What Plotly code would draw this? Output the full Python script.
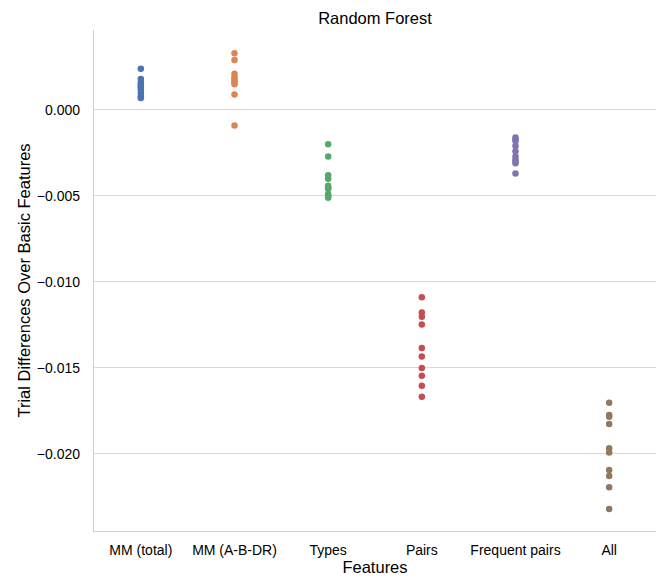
import plotly.graph_objects as go

categories = ["MM (total)", "MM (A-B-DR)", "Types", "Pairs", "Frequent pairs", "All"]
mm_total = [0.0024, 0.0018, 0.0016, 0.0015, 0.0014, 0.0013, 0.0012, 0.0010, 0.0008, 0.0007]
mm_abdr = [0.0033, 0.0029, 0.0021, 0.0019, 0.0018, 0.0017, 0.0016, 0.0015, 0.0009, -0.0009]
types = [-0.0020, -0.0027, -0.0038, -0.0040, -0.0044, -0.0045, -0.0046, -0.0049, -0.0050, -0.0051]
pairs = [-0.01089, -0.01178, -0.01202, -0.01248, -0.01384, -0.01434, -0.0150, -0.01545, -0.01603, -0.01667]
freq_pairs = [-0.0016, -0.0017, -0.0018, -0.0021, -0.0024, -0.0027, -0.0029, -0.0030, -0.0031, -0.0037]
all_feats = [-0.01702, -0.01773, -0.01783, -0.01826, -0.01967, -0.01992, -0.02093, -0.02128, -0.02194, -0.0232]
series = [mm_total, mm_abdr, types, pairs, freq_pairs, all_feats]
colors = ["#4C72B0", "#DD8452", "#55A868", "#C44E52", "#8172B3", "#937860"]
y_ticks = [0.0, -0.005, -0.010, -0.015, -0.020]
y_tick_labels = ["0.000", "\u22120.005", "\u22120.010", "\u22120.015", "\u22120.020"]

fig = go.Figure()
for cat, vals, col in zip(categories, series, colors):
    fig.add_trace(go.Scatter(
        x=[cat] * len(vals), y=vals, mode="markers",
        marker=dict(color=col, size=6.5, line=dict(width=0)),
        showlegend=False, name=cat,
    ))

font_family = "Liberation Sans, Arial, sans-serif"
fig.update_layout(
    width=662, height=579,
    margin=dict(l=94, r=6, t=30, b=48),
    plot_bgcolor="white", paper_bgcolor="white",
    font=dict(family=font_family, color="black", size=14),
    title=dict(text="Random Forest", x=0.5, xref="paper", xanchor="center",
               y=1 - 18 / 579, yanchor="middle", font=dict(size=16.5, color="black")),
    xaxis=dict(
        categoryorder="array", categoryarray=categories,
        range=[-0.5, 5.5], showgrid=False, zeroline=False,
        showline=True, linecolor="#cccccc", linewidth=1.25,
        ticks="", tickfont=dict(size=14), ticklabelstandoff=6,
        automargin=False,
        title=dict(text="Features", font=dict(size=16.5), standoff=3),
    ),
    yaxis=dict(
        range=[-0.02448, 0.00465], tickvals=y_ticks, ticktext=y_tick_labels,
        showgrid=True, gridcolor="#d9d9d9", gridwidth=1, zeroline=False,
        showline=True, linecolor="#cccccc", linewidth=1.25,
        ticks="", tickfont=dict(size=14), ticklabelstandoff=10,
        automargin=False,
        title=dict(text="Trial Differences Over Basic Features", font=dict(size=16.5), standoff=2),
    ),
)
fig.write_html("out.html", config={"displayModeBar": False},
               post_script="document.body.style.margin='0';")
